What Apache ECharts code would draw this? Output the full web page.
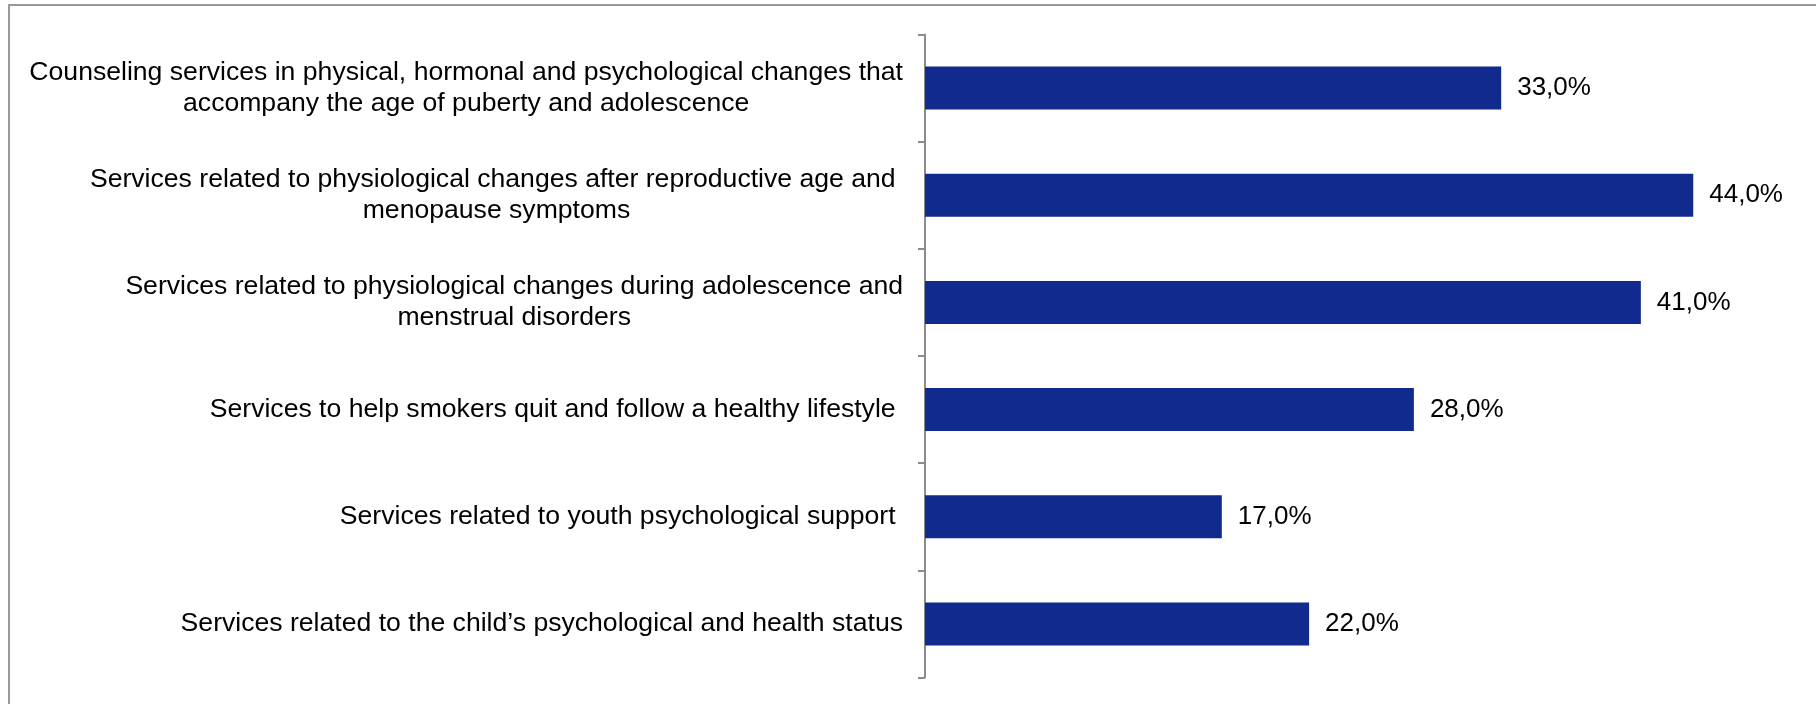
<!DOCTYPE html>
<html>
<head>
<meta charset="utf-8">
<script src="https://cdn.jsdelivr.net/npm/echarts@6/dist/echarts.min.js"></script>
<style>
html,body{margin:0;padding:0;background:#fff;}
#c{width:1816px;height:704px;}
</style>
</head>
<body>
<div id="c"></div>
<script>
const categories = [
  "Counseling services in physical, hormonal and psychological changes that\naccompany the age of puberty and adolescence",
  "Services related to physiological changes after reproductive age and \nmenopause symptoms",
  "Services related to physiological changes during adolescence and\nmenstrual disorders",
  "Services to help smokers quit and follow a healthy lifestyle ",
  "Services related to youth psychological support ",
  "Services related to the child\u2019s psychological and health status"
];
const values = [33.0, 44.0, 41.0, 28.0, 17.0, 22.0];

const FONT = '"Liberation Sans", Arial, sans-serif';
const chart = echarts.init(document.getElementById('c'), null, {renderer: 'canvas'});
chart.setOption({
  backgroundColor: '#ffffff',
  animation: false,
  graphic: [{
    type: 'rect',
    shape: {x: 9, y: 5, width: 2000, height: 2000},
    style: {fill: 'none', stroke: '#999999', lineWidth: 2},
    silent: true
  }],
  grid: {left: 925, top: 34.5, height: 643, right: 18},
  xAxis: {
    type: 'value', min: 0, max: 50,
    show: false
  },
  yAxis: {
    type: 'category',
    data: categories,
    inverse: true,
    axisLine: {show: true, lineStyle: {color: '#8c8c8c', width: 2}},
    axisTick: {show: true, length: 7, lineStyle: {color: '#8c8c8c', width: 2}},
    splitLine: {show: false},
    axisLabel: {
      margin: 22,
      align: 'right',
      fontFamily: FONT,
      fontSize: 26.6,
      color: '#000',
      lineHeight: 31,
      formatter: function (v) {
        return v.split('\n').map(function (l) { return '{c|' + l + '}'; }).join('\n');
      },
      rich: {
        c: {align: 'center', fontFamily: FONT, fontSize: 26.6, lineHeight: 31, color: '#000'}
      }
    }
  },
  series: [{
    type: 'bar',
    data: values,
    barWidth: 43,
    itemStyle: {color: '#102B8D'},
    label: {
      show: true,
      position: 'right',
      distance: 16,
      fontFamily: FONT,
      fontSize: 26,
      color: '#000',
      formatter: function (p) { return p.value.toFixed(1).replace('.', ',') + '%'; }
    }
  }]
});
</script>
</body>
</html>
